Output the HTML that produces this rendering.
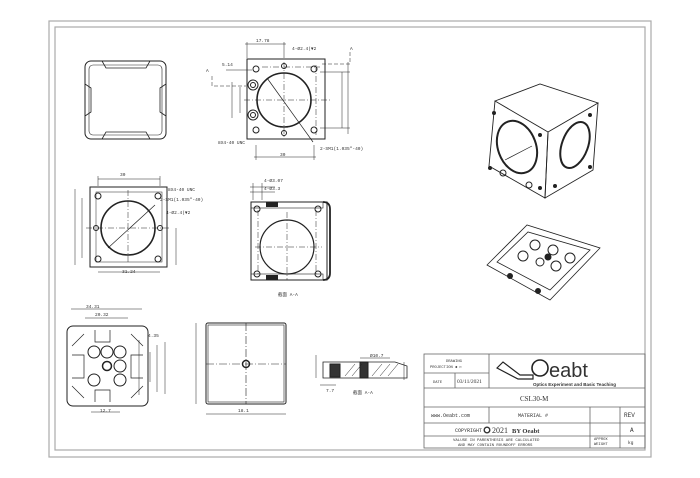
<!DOCTYPE html>
<html><head><meta charset="utf-8"><style>
html,body{margin:0;padding:0;background:#fff;}
svg{display:block;}
text{font-family:"Liberation Mono",monospace;fill:#333;}
</style></head><body>
<svg width="700" height="478" viewBox="0 0 700 478" xmlns="http://www.w3.org/2000/svg">
<rect x="49" y="21" width="602" height="436" fill="none" stroke="#aaa" stroke-width="1.2"/>
<rect x="55" y="27" width="590" height="423" fill="none" stroke="#aaa" stroke-width="1.2"/>

<g fill="none" stroke="#222" stroke-width="1">
<!-- View 1 -->
<rect x="85" y="61" width="81" height="78" rx="6"/>
<rect x="89" y="65" width="73" height="70" rx="4" stroke-width="0.6"/>
<path d="M102 61 L106 68 L146 68 L150 61 M102 139 L106 132 L146 132 L150 139 M85 84 L91 88 L91 112 L85 116 M166 84 L160 88 L160 112 L166 116" stroke-width="0.8"/>

<!-- View 2 -->
<rect x="247" y="59" width="78" height="80"/>
<circle cx="284" cy="100" r="27" stroke-width="1.6"/>
<circle cx="256" cy="69" r="3"/><circle cx="314" cy="69" r="3"/><circle cx="256" cy="130" r="3"/><circle cx="314" cy="130" r="3"/>
<circle cx="284" cy="66" r="2.5"/><circle cx="284" cy="133" r="2.5"/>
<circle cx="253" cy="85" r="5"/><circle cx="253" cy="85" r="2.5"/>
<circle cx="253" cy="115" r="5"/><circle cx="253" cy="115" r="2.5"/>
<path d="M267 78 L313 142" stroke-width="0.7"/>
<path d="M244 100 L330 100 M284 62 L284 138 M316 65 L316 135 M262 67 L320 67" stroke-dasharray="6,2,1,2" stroke-width="0.5"/>
<path d="M247 58 L247 42 M284 58 L284 42 M245 44 L286 44 M256 145 L256 160 M314 145 L314 160 M254 157 L316 157 M320 72 L350 72 M320 128 L350 128 M342 72 L342 128 M348 62 L348 134 M240 87 L240 113 M232 82 L232 118 M226 70 L252 70" stroke-width="0.5"/>
<path d="M212 76 L212 86 L246 86 M350 52 L350 64 L322 64" stroke-width="0.5" stroke-dasharray="4,2"/>

<!-- View 3 -->
<rect x="90" y="187" width="77" height="80"/>
<rect x="96" y="192" width="66" height="70" stroke-width="0.5"/>
<circle cx="128" cy="228" r="27" stroke-width="1.6"/>
<circle cx="98" cy="196" r="3"/><circle cx="158" cy="196" r="3"/><circle cx="98" cy="259" r="3"/><circle cx="158" cy="259" r="3"/>
<circle cx="96" cy="228" r="2.5"/><circle cx="160" cy="228" r="2.5"/>
<path d="M108 248 L155 205" stroke-width="0.7"/>
<path d="M86 228 L170 228 M128 190 L128 264" stroke-dasharray="6,2,1,2" stroke-width="0.5"/>
<path d="M98 186 L98 176 M160 186 L160 176 M98 179 L160 179 M75 189 L75 265 M82 198 L82 258 M98 272 L160 272 M176 228 L176 265" stroke-width="0.5"/>

<!-- View 4 section -->
<rect x="251" y="202" width="76" height="78"/>
<rect x="251" y="202" width="72" height="6" stroke-width="0.6"/>
<rect x="251" y="274" width="72" height="6" stroke-width="0.6"/>
<path d="M323 202 Q330 202 330 209 L330 273 Q330 280 323 280" stroke-width="1.8"/>
<circle cx="287" cy="247" r="27" stroke-width="1.2"/>
<circle cx="257" cy="209" r="3"/><circle cx="318" cy="209" r="3"/><circle cx="257" cy="274" r="3"/><circle cx="318" cy="274" r="3"/>
<path d="M255 247 L322 247 M287 212 L287 280 M258 210 L258 276 M316 210 L316 276" stroke-dasharray="6,2,1,2" stroke-width="0.5"/>
<path d="M253 183 L253 200 M262 183 L262 200 M250 187 L275 187 M250 192 L275 192" stroke-width="0.5"/>
<rect x="266" y="202" width="12" height="5" fill="#222" stroke="none"/>
<rect x="266" y="275" width="12" height="5" fill="#222" stroke="none"/>

<!-- View 5 -->
<rect x="67" y="326" width="81" height="80" rx="6"/>
<path d="M72 346 L84 334 M143 346 L131 334 M72 386 L84 398 M143 386 L131 398 M95 330 L95 342 L110 342 L110 330 M95 402 L95 390 L110 390 L110 402 M72 355 L84 355 L84 378 L72 378 M143 355 L131 355 L131 378 L143 378" stroke-width="0.7"/>
<circle cx="94" cy="352" r="6"/><circle cx="107" cy="352" r="6"/><circle cx="120" cy="352" r="6"/>
<circle cx="107" cy="366" r="4.5" stroke-width="1.5"/><circle cx="120" cy="366" r="6"/>
<circle cx="94" cy="380" r="6"/><circle cx="120" cy="380" r="6"/>
<path d="M71 309 L142 309 M85 318 L128 318 M139 340 L139 395 M157 345 L157 392 M165 342 L165 394 M150 352 L150 382 M91 412 L120 412" stroke-width="0.5"/>

<!-- View 6 -->
<rect x="206" y="323" width="80" height="81" rx="2"/>
<rect x="208" y="325" width="76" height="77" stroke-width="0.6"/>
<circle cx="246" cy="364" r="3.5" stroke-width="1.5"/>
<path d="M206 364 L286 364 M246 323 L246 404" stroke-dasharray="8,2,1,2" stroke-width="0.6"/>
<path d="M196 323 L196 404 M206 414 L286 414" stroke-width="0.5"/>

<!-- View 7 -->
<path d="M323 362 L395 362 L407 366 L407 378 L323 378 Z" stroke-width="0.8"/>
<path d="M330 364 L340 364 L340 377 L330 377 Z M360 362 L368 362 L368 378 L360 378 Z" fill="#333"/>
<path d="M345 376 L355 364 M352 376 L362 364 M372 376 L382 364 M380 376 L390 364 M388 376 L398 364" stroke-width="0.5"/>
<path d="M316 355 L316 378 M404 362 L404 380 M320 385 L336 385 M360 358 L390 358" stroke-width="0.5"/>

<!-- Cube 3D -->
<path d="M495 101 L540 84 L598 103 L548 132 Z" stroke-width="0.9"/>
<path d="M495 101 L489 166 L545 198 L548 132" stroke-width="0.9"/>
<path d="M548 132 L545 198 L593 170 L598 103" stroke-width="0.9"/>
<ellipse cx="517" cy="147" rx="19" ry="27" transform="rotate(-20 517 147)" stroke-width="2"/>
<ellipse cx="575" cy="145" rx="13" ry="24" transform="rotate(20 575 145)" stroke-width="2"/>
<path d="M505 160 L532 146" stroke-width="0.7"/>
<circle cx="494" cy="113" r="1.5" fill="#222"/><circle cx="540" cy="135" r="1.5" fill="#222"/><circle cx="490" cy="168" r="1.5" fill="#222"/><circle cx="540" cy="188" r="1.5" fill="#222"/>
<circle cx="555" cy="186" r="1.5" fill="#222"/><circle cx="590" cy="115" r="1.5" fill="#222"/><circle cx="590" cy="167" r="1.5" fill="#222"/>
<circle cx="503" cy="173" r="3"/><circle cx="529" cy="185" r="3"/>
<!-- Plate 3D -->
<path d="M487 265 L527 225 L600 248 L550 300 Z" stroke-width="0.8"/>
<path d="M497 262 L528 232 L590 250 L550 290 Z" stroke-width="0.8"/>
<circle cx="535" cy="245" r="5"/><circle cx="553" cy="250" r="5"/><circle cx="523" cy="256" r="5"/><circle cx="540" cy="262" r="4"/><circle cx="556" cy="266" r="5"/><circle cx="570" cy="258" r="5"/>
<circle cx="548" cy="257" r="3" fill="#222"/>
<circle cx="510" cy="276" r="2.5" fill="#222"/><circle cx="538" cy="291" r="2.5" fill="#222"/>

<!-- Title block -->
<g stroke="#666" stroke-width="0.8">
<rect x="424" y="354" width="221" height="94"/>
<path d="M424 388 L645 388 M424 407 L645 407 M424 423 L645 423 M424 436 L645 436 M489 354 L489 388 M424 373 L489 373 M455 373 L455 388 M489 407 L489 423 M590 407 L590 448 M620 407 L620 448 M620 423 L645 423"/>
</g>
<path d="M497 368 L503 362 L520 375 L533 375 L533 379 L518 379 Z" stroke-width="1.2"/>
<circle cx="540" cy="368" r="8" stroke-width="1.6"/>
</g>

<g font-size="4.5">
<text x="256" y="42">17.78</text><text x="292" y="50">4-Ø2.4(▼2</text><text x="222" y="66">5.14</text>
<text x="350" y="50">A</text><text x="206" y="72">A</text>
<text x="218" y="144">8X4-40 UNC</text><text x="320" y="150">2-SM1(1.035"-40)</text><text x="280" y="156">30</text>
<text x="120" y="176">30</text><text x="168" y="191">8X4-40 UNC</text><text x="160" y="201">2-SM1(1.035"-40)</text><text x="166" y="214">4-Ø2.4(▼2</text>
<text x="122" y="273">31.24</text><text x="264" y="182">4-Ø3.07</text><text x="264" y="190">4-Ø3.3</text>
<text x="278" y="296">截面 A-A</text><text x="86" y="308">34.31</text><text x="95" y="316">20.32</text><text x="148" y="337">4.35</text>
<text x="100" y="412">12.7</text><text x="238" y="412">18.1</text><text x="370" y="357">Ø10.7</text><text x="353" y="394">截面 A-A</text><text x="326" y="392">7.7</text>
</g>
<g font-size="3.8">
<text x="446" y="362">DRAWING</text><text x="430" y="368">PROJECTION ◆ ▷</text><text x="433" y="383">DATE</text>
<text x="594" y="440">APPROX</text><text x="594" y="445">WEIGHT</text>
</g>
<text x="457" y="383" font-size="5.5" font-family="Liberation Serif" style="font-family:'Liberation Serif',serif">03/11/2021</text>
<text x="549" y="377" font-size="20" style="font-family:'Liberation Sans',sans-serif" fill="#222">eabt</text>
<text x="533" y="386" font-size="4.5" font-weight="bold" style="font-family:'Liberation Sans',sans-serif">Optics Experiment and Basic Teaching</text>
<text x="520" y="401" font-size="7" style="font-family:'Liberation Serif',serif">CSL30-M</text>
<text x="431" y="417" font-size="5">www.Oeabt.com</text>
<text x="518" y="417" font-size="5">MATERIAL #</text>
<text x="624" y="417" font-size="6">REV</text>
<text x="455" y="432" font-size="5">COPYRIGHT</text>
<circle cx="487" cy="430" r="2.8" fill="none" stroke="#333" stroke-width="1.4"/>
<text x="492" y="433" font-size="8" style="font-family:'Liberation Serif',serif" fill="#222">2021</text>
<text x="512" y="433" font-size="6.5" font-weight="bold" style="font-family:'Liberation Serif',serif" fill="#222">BY Oeabt</text>
<text x="630" y="432" font-size="6">A</text>
<text x="453" y="441" font-size="4">VALUSE IN PARENTHESIS ARE CALCULATED</text>
<text x="458" y="446" font-size="4">AND MAY CONTAIN ROUNDOFF ERRORS</text>
<text x="628" y="444" font-size="4.5">kg</text>
</svg>
</body></html>
